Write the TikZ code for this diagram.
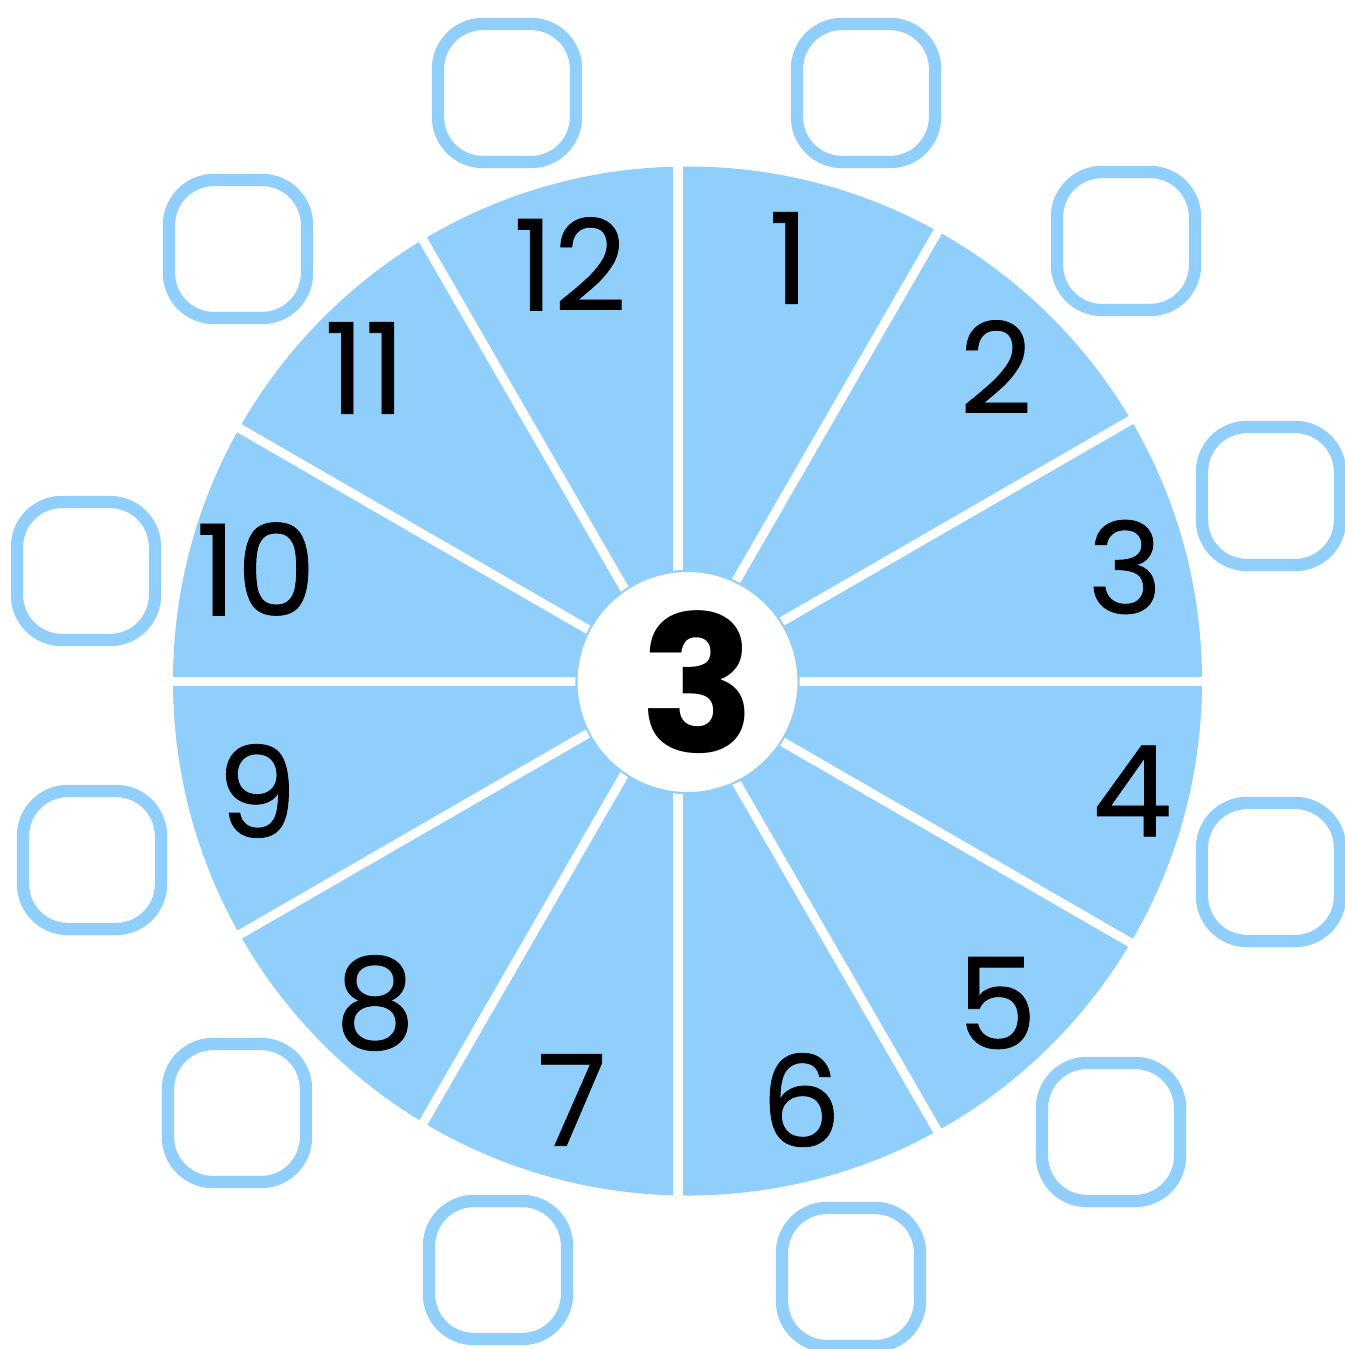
\documentclass[tikz,border=0pt]{standalone}
\usepackage{fontspec}
\setmainfont{Poppins}
\newfontfamily\digitfont{Poppins}[FakeBold=0.6]
\usepackage{tikz}
\definecolor{skyfill}{HTML}{90CEFC}

\begin{document}
\begin{tikzpicture}[
  x=0.01cm, y=-0.01cm,
  digit/.style={inner sep=0pt, font=\digitfont\fontsize{36}{40}\selectfont},
  answer/.style={rectangle, draw=skyfill, line width=3.5pt,
    rounded corners=0.45cm, minimum size=1.38cm, inner sep=0pt, fill=white},
  hub/.style={circle, draw=skyfill, line width=0.6pt, fill=white,
    minimum size=2.22cm, inner sep=0pt,
    font=\bfseries\fontsize{54}{60}\selectfont},
  gap/.style={draw=white, line width=2.6pt}
]
  \useasboundingbox (0,0) rectangle (1344,1349);

  % Wheel disc, cut into twelve parts by white spokes.
  \fill[skyfill] (687.5,681) circle[radius=514.5];
  \coordinate (o) at (678,681.5);
  \draw[gap] (o) ++(0:530) -- ++(180:1060);
  \draw[gap] (o) ++(30:530) -- ++(210:1060);
  \draw[gap] (o) ++(60:530) -- ++(240:1060);
  \draw[gap] (o) ++(90:530) -- ++(270:1060);
  \draw[gap] (o) ++(120:530) -- ++(300:1060);
  \draw[gap] (o) ++(150:530) -- ++(330:1060);

  % Centre number.
  \node[hub] (hub) at (687.5,682) {\hspace{6pt}3};

  % Numbers on the wheel.
  \node[digit] (n1) at (789,258) {1};
  \node[digit] (n2) at (996,367) {2};
  \node[digit] (n3) at (1125,567) {3};
  \node[digit] (n4) at (1132,791) {4};
  \node[digit] (n5) at (997,1003) {5};
  \node[digit] (n6) at (801,1100) {6};
  \node[digit] (n7) at (572,1100) {7};
  \node[digit] (n8) at (375,1003) {8};
  \node[digit] (n9) at (257,791) {9};
  \node[digit] (n10) at (256,569) {10};
  \node[digit] (n11) at (365,368) {11};
  \node[digit] (n12) at (570,264) {12};

  % Empty answer boxes round the wheel.
  \node[answer] (b1) at (866,93) {};
  \node[answer] (b2) at (1126,241) {};
  \node[answer] (b3) at (1271,496) {};
  \node[answer] (b4) at (1271,872) {};
  \node[answer] (b5) at (1111,1132) {};
  \node[answer] (b6) at (851,1277) {};
  \node[answer] (b7) at (498,1270) {};
  \node[answer] (b8) at (237,1113) {};
  \node[answer] (b9) at (92,860) {};
  \node[answer] (b10) at (86,571) {};
  \node[answer] (b11) at (238,249) {};
  \node[answer] (b12) at (507,93) {};
\end{tikzpicture}
\end{document}
